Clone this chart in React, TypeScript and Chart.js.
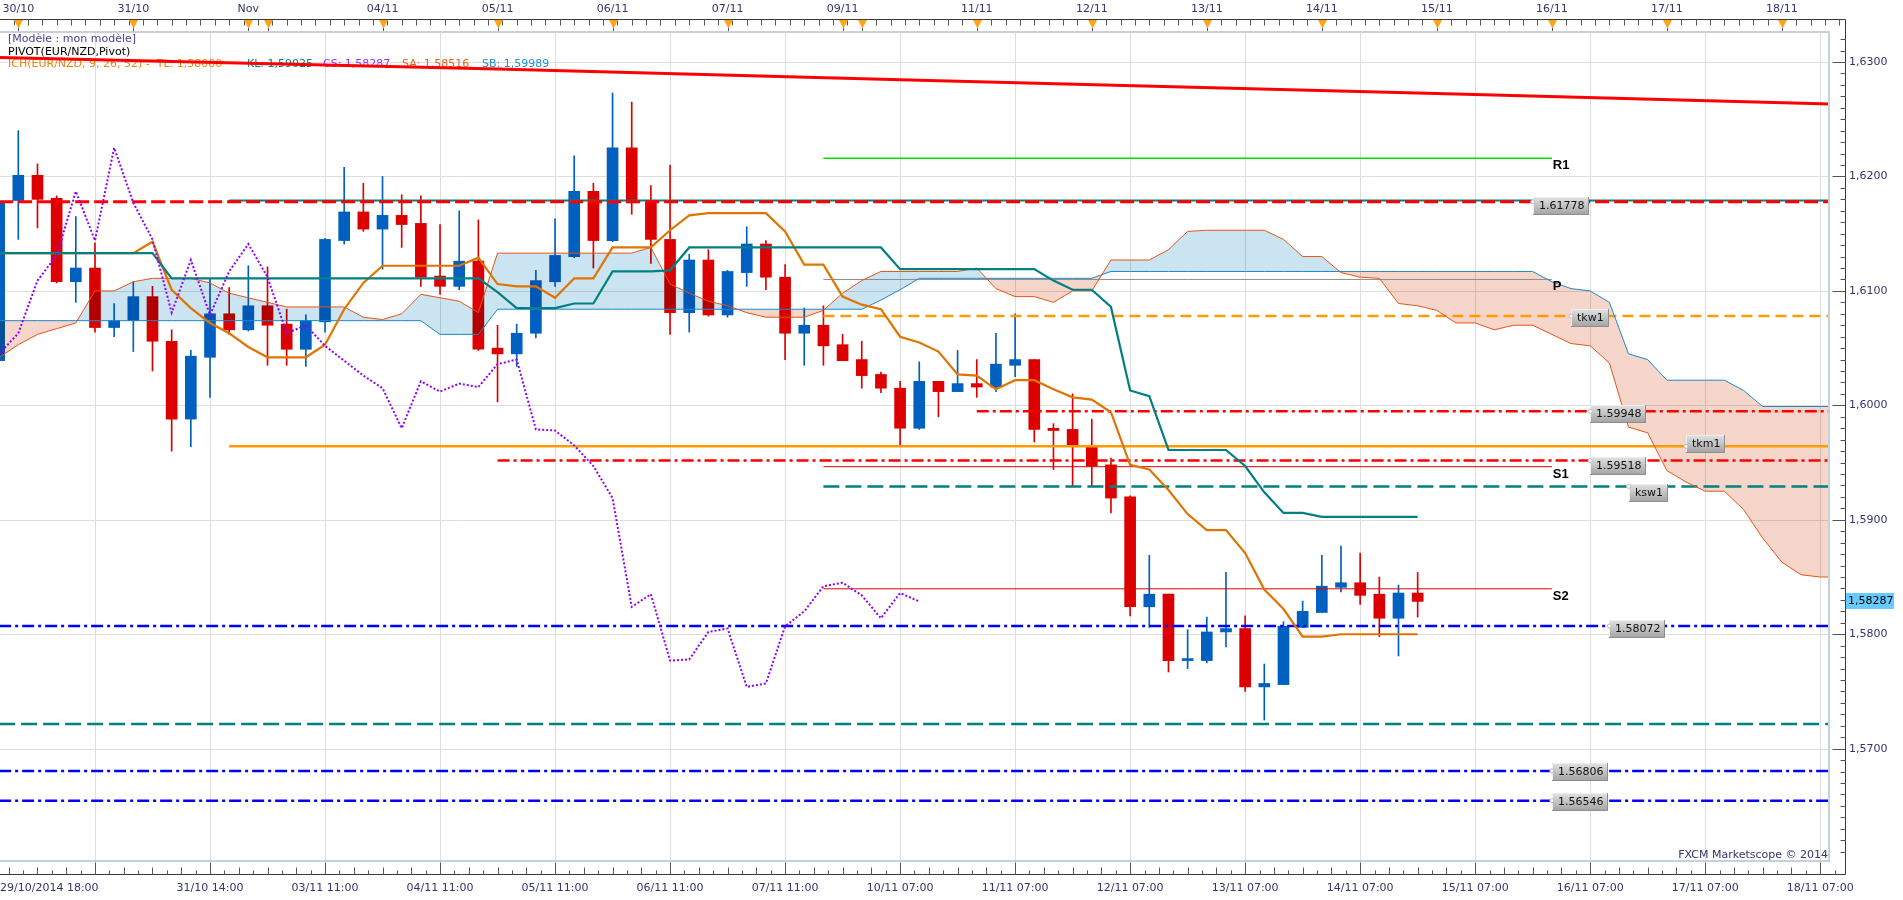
import React, { useEffect, useRef } from 'react';
import { Chart, registerables } from 'chart.js';

Chart.register(...registerables);

// ---------------- data (EUR/NZD, 4-hour candles, index -1 .. 73) ----------------
const FIRST_CANDLE = -1;
const OPEN = [
  1.6039, 1.6179, 1.6201, 1.6181, 1.6108, 1.6120, 1.6068, 1.6074, 1.6095, 1.6056,
  1.5988, 1.6042, 1.6080, 1.6066, 1.6087, 1.6071, 1.6049, 1.6073, 1.6144, 1.6169,
  1.6154, 1.6166, 1.6159, 1.6113, 1.6104, 1.6126, 1.6050, 1.6045, 1.6063, 1.6108,
  1.6130, 1.6187, 1.6144, 1.6225, 1.6177, 1.6145, 1.6081, 1.6127, 1.6079, 1.6116,
  1.6141, 1.6112, 1.6063, 1.6070, 1.6053, 1.6040, 1.6027, 1.6015, 1.5980, 1.6021,
  1.6012, 1.6019, 1.6016, 1.6035, 1.6040, 1.5980, 1.5979, 1.5964, 1.5948, 1.5920,
  1.5824, 1.5835, 1.5777, 1.5777, 1.5802, 1.5805, 1.5754, 1.5756, 1.5806, 1.5819,
  1.5841, 1.5845, 1.5835, 1.5814, 1.5836,
];
const HIGH = [
  1.6264, 1.6240, 1.6211, 1.6183, 1.6165, 1.6142, 1.6089, 1.6108, 1.6104, 1.6066,
  1.6048, 1.6111, 1.6103, 1.6122, 1.6121, 1.6084, 1.6079, 1.6146, 1.6208, 1.6194,
  1.6200, 1.6184, 1.6183, 1.6158, 1.6170, 1.6162, 1.6070, 1.6071, 1.6118, 1.6163,
  1.6218, 1.6194, 1.6273, 1.6265, 1.6192, 1.6210, 1.6132, 1.6136, 1.6118, 1.6156,
  1.6144, 1.6123, 1.6085, 1.6087, 1.6062, 1.6056, 1.6029, 1.6021, 1.6038, 1.6021,
  1.6048, 1.6040, 1.6063, 1.6080, 1.6040, 1.5984, 1.6010, 1.5988, 1.5954, 1.5921,
  1.5869, 1.5835, 1.5804, 1.5815, 1.5854, 1.5816, 1.5774, 1.5811, 1.5829, 1.5869,
  1.5877, 1.5871, 1.5850, 1.5843, 1.5854,
];
const LOW = [
  1.6022, 1.6145, 1.6155, 1.6107, 1.6090, 1.6064, 1.6060, 1.6047, 1.6030, 1.5960,
  1.5964, 1.6007, 1.6062, 1.6065, 1.6035, 1.6035, 1.6034, 1.6064, 1.6141, 1.6152,
  1.6119, 1.6138, 1.6104, 1.6097, 1.6101, 1.6048, 1.6003, 1.6034, 1.6059, 1.6104,
  1.6129, 1.6120, 1.6143, 1.6167, 1.6124, 1.6062, 1.6064, 1.6078, 1.6077, 1.6104,
  1.6101, 1.6040, 1.6035, 1.6035, 1.6039, 1.6015, 1.6011, 1.5965, 1.5979, 1.5990,
  1.6012, 1.6007, 1.6012, 1.6025, 1.5968, 1.5944, 1.5930, 1.5930, 1.5906, 1.5816,
  1.5806, 1.5767, 1.5770, 1.5775, 1.5789, 1.5750, 1.5725, 1.5756, 1.5806, 1.5819,
  1.5837, 1.5826, 1.5798, 1.5781, 1.5815,
];
const CLOSE = [
  1.6178, 1.6201, 1.6180, 1.6108, 1.6120, 1.6068, 1.6074, 1.6095, 1.6056, 1.5988,
  1.6043, 1.6080, 1.6066, 1.6087, 1.6070, 1.6049, 1.6074, 1.6145, 1.6169, 1.6154,
  1.6166, 1.6158, 1.6112, 1.6104, 1.6126, 1.6049, 1.6045, 1.6063, 1.6109, 1.6131,
  1.6187, 1.6144, 1.6225, 1.6177, 1.6145, 1.6081, 1.6127, 1.6079, 1.6117, 1.6141,
  1.6112, 1.6063, 1.6070, 1.6052, 1.6039, 1.6026, 1.6015, 1.5980, 1.6021, 1.6012,
  1.6019, 1.6016, 1.6036, 1.6040, 1.5979, 1.5978, 1.5965, 1.5947, 1.5919, 1.5824,
  1.5835, 1.5777, 1.5778, 1.5802, 1.5805, 1.5754, 1.5757, 1.5807, 1.5820, 1.5842,
  1.5845, 1.5834, 1.5814, 1.5836, 1.58287,
];

// Ichimoku (9, 26, 52) lines, same index range as the candles
const TENKAN = [
  1.6133, 1.6133, 1.6133, 1.6133, 1.6133, 1.6133, 1.6133, 1.6133, 1.6143, 1.6101,
  1.6085, 1.6072, 1.6063, 1.6051, 1.6042, 1.6042, 1.6042, 1.6053, 1.6084, 1.6107,
  1.6122, 1.6122, 1.6122, 1.6122, 1.6122, 1.6129, 1.6106, 1.6104, 1.6104, 1.6094,
  1.6111, 1.6111, 1.6138, 1.6138, 1.6138, 1.6153, 1.6166, 1.6168, 1.6168, 1.6168,
  1.6168, 1.6152, 1.6123, 1.6123, 1.6095, 1.6088, 1.6084, 1.6060, 1.6055, 1.6047,
  1.6027, 1.6026, 1.6014, 1.6022, 1.6022, 1.6014, 1.6007, 1.6005, 1.5994, 1.5948,
  1.5944, 1.5926, 1.5905, 1.5891, 1.5891, 1.5871, 1.5839, 1.5822, 1.5798, 1.5798,
  1.5800, 1.5800, 1.5800, 1.5800, 1.5800,
];
const KIJUN = [
  1.6133, 1.6133, 1.6133, 1.6133, 1.6133, 1.6133, 1.6133, 1.6133, 1.6133, 1.6111,
  1.6111, 1.6111, 1.6111, 1.6111, 1.6111, 1.6111, 1.6111, 1.6111, 1.6111, 1.6111,
  1.6111, 1.6111, 1.6111, 1.6111, 1.6111, 1.6111, 1.6099, 1.6085, 1.6085, 1.6085,
  1.6089, 1.6089, 1.6117, 1.6117, 1.6117, 1.6118, 1.6138, 1.6138, 1.6138, 1.6138,
  1.6138, 1.6138, 1.6138, 1.6138, 1.6138, 1.6138, 1.6138, 1.6119, 1.6119, 1.6119,
  1.6119, 1.6119, 1.6119, 1.6119, 1.6119, 1.6109, 1.6101, 1.6101, 1.6086, 1.6013,
  1.6008, 1.5961, 1.5961, 1.5961, 1.5961, 1.5947, 1.5924, 1.5906, 1.5906, 1.59025,
  1.59025, 1.59025, 1.59025, 1.59025, 1.59025,
];
// Senkou spans, index -1 .. 95 (already displaced forward)
const SENKOU_FIRST = -1;
const SENKOU_A = [
  1.6042, 1.6053, 1.6062, 1.6067, 1.6072, 1.6100, 1.6100, 1.6108, 1.6111, 1.6111,
  1.6111, 1.6107, 1.6098, 1.6094, 1.6090, 1.6086, 1.6086, 1.6086, 1.6086, 1.6077,
  1.6075, 1.6080, 1.6097, 1.6094, 1.6091, 1.6081, 1.6133, 1.6133, 1.6133, 1.6133,
  1.6133, 1.6133, 1.6133, 1.6133, 1.6138, 1.6106, 1.6098, 1.6091, 1.6087, 1.6081,
  1.6077, 1.6077, 1.6077, 1.6083, 1.6098, 1.6109, 1.6117, 1.6117, 1.6117, 1.6117,
  1.6117, 1.6120, 1.6102, 1.6095, 1.6095, 1.6090, 1.6100, 1.6100, 1.6127, 1.6127,
  1.6127, 1.6136, 1.6152, 1.6153, 1.6153, 1.6153, 1.6153, 1.6145, 1.6130, 1.6130,
  1.6116, 1.6112, 1.6111, 1.6089, 1.6087, 1.6083, 1.6072, 1.6072, 1.6066, 1.6070,
  1.6070, 1.6062, 1.6054, 1.6052, 1.6037, 1.5981, 1.5976, 1.5943, 1.5933, 1.5925,
  1.5925, 1.5909, 1.5884, 1.5863, 1.5852, 1.5850, 1.5850,
];
const SENKOU_B = [
  1.6074, 1.6074, 1.6074, 1.6074, 1.6074, 1.6074, 1.6074, 1.6074, 1.6074, 1.6074,
  1.6074, 1.6074, 1.6074, 1.6074, 1.6074, 1.6074, 1.6074, 1.6074, 1.6074, 1.6074,
  1.6074, 1.6074, 1.6074, 1.6062, 1.6062, 1.6062, 1.6084, 1.6084, 1.6084, 1.6084,
  1.6084, 1.6084, 1.6084, 1.6084, 1.6084, 1.6084, 1.6084, 1.6084, 1.6084, 1.6084,
  1.6084, 1.6084, 1.6084, 1.6084, 1.6084, 1.6084, 1.6092, 1.6101, 1.6111, 1.6111,
  1.6111, 1.6111, 1.6111, 1.6111, 1.6111, 1.6111, 1.6111, 1.6111, 1.6117, 1.6117,
  1.6117, 1.6117, 1.6117, 1.6117, 1.6117, 1.6117, 1.6117, 1.6117, 1.6117, 1.6117,
  1.6117, 1.6117, 1.6117, 1.6117, 1.6117, 1.6117, 1.6117, 1.6117, 1.6117, 1.6117,
  1.6117, 1.6108, 1.6102, 1.6100, 1.6090, 1.6045, 1.6040, 1.6022, 1.6022, 1.6022,
  1.6022, 1.6013, 1.5999, 1.5999, 1.5999, 1.5999, 1.5999,
];
const CHIKOU_SHIFT = 26; // chikou = close plotted 26 candles back

// red sloping line at the top
const TREND_AT = [-1, 25, 47, 75, 95];
const TREND_VALUES = [1.6304, 1.6294, 1.6284, 1.6272, 1.6263];

// horizontal levels (pivots, weekly/monthly tenkan/kijun, marked prices)
const LEVEL_VALUES = [1.61789, 1.61778, 1.6216, 1.6110, 1.6078, 1.59948, 1.59642, 1.59518, 1.59464, 1.59292, 1.58397, 1.58072, 1.57215, 1.56806, 1.56546];
const LEVEL_FROM = [11, -1, 42, 42, 42, 50, 11, 25, 42, 42, 42, -1, -1, -1, -1];
const LEVEL_TO = [95, 95, 80, 80, 95, 95, 95, 95, 80, 95, 80, 95, 95, 95, 95];

const TAG_TEXTS = ['1.61778', 'tkw1', '1.59948', 'tkm1', '1.59518', 'ksw1', '1.58072', '1.56806', '1.56546'];
const TAG_LEVELS = [1.61778, 1.6078, 1.59948, 1.59642, 1.59518, 1.59292, 1.58072, 1.56806, 1.56546];
const TAG_AT = [79, 81, 82, 87, 82, 84, 83, 80, 80];

const PIVOT_NAMES = ['R1', 'P', 'S1', 'S2'];
const PIVOT_LEVELS = [1.6216, 1.6110, 1.59464, 1.58397];
const PIVOT_LABEL_AT = 80;

const Y_TICKS = [1.57, 1.58, 1.59, 1.60, 1.61, 1.62, 1.63];
const LAST_PRICE = 1.58287;

const BOTTOM_GRID = [4, 10, 16, 22, 28, 34, 40, 46, 52, 58, 64, 70, 76, 82, 88, 94];
const BOTTOM_LABELS = ['29/10/2014 18:00', '31/10 14:00', '03/11 11:00', '04/11 11:00', '05/11 11:00', '06/11 11:00', '07/11 11:00', '10/11 07:00', '11/11 07:00', '12/11 07:00', '13/11 07:00', '14/11 07:00', '15/11 07:00', '16/11 07:00', '17/11 07:00', '18/11 07:00'];
const BOTTOM_LABEL_AT = [-1, 10, 16, 22, 28, 34, 40, 46, 52, 58, 64, 70, 76, 82, 88, 94];
const TOP_LABELS = ['30/10', '31/10', 'Nov', '04/11', '05/11', '06/11', '07/11', '09/11', '11/11', '12/11', '13/11', '14/11', '15/11', '16/11', '17/11', '18/11'];
const TOP_LABEL_AT = [0, 6, 12, 19, 25, 31, 37, 43, 50, 56, 62, 68, 74, 80, 86, 92];
const TOP_MARKERS = [0, 6, 12, 13, 19, 25, 31, 37, 43, 44, 50, 56, 62, 68, 74, 80, 86, 92];

const LEGEND_LINES = ['[Modèle : mon modèle]', 'PIVOT(EUR/NZD,Pivot)'];
const ICH_PARTS = ['ICH(EUR/NZD, 9, 26, 52) -  TL: 1,58000', 'KL: 1,59025', 'CS: 1,58287', 'SA: 1,58516', 'SB: 1,59989'];

// ---------------- styles / layout ----------------
const W = 1903;
const H = 900;
const X_MIN = -0.955;
const X_MAX = 94.51;
const Y_MIN = 1.5601;
const Y_MAX = 1.63271;
const FONT = '11px "DejaVu Sans", Verdana, sans-serif';
const AXIS_TEXT = '#34346E';
const UP = '#0060C0';
const DOWN = '#DD0000';
const CLOUD_UP = '#CBE4F1';
const CLOUD_DOWN = '#F6D6CA';
const LEVEL_STYLES = [
  { color: '#008080', width: 2, dash: [] as number[] },
  { color: '#FF0000', width: 3, dash: [14, 5] },
  { color: '#00E000', width: 1.5, dash: [] },
  { color: '#8C8C8C', width: 1, dash: [] },
  { color: '#FF9A00', width: 2.5, dash: [11, 6] },
  { color: '#FF0000', width: 2.5, dash: [12, 4, 3, 4] },
  { color: '#FF9A00', width: 2.5, dash: [] },
  { color: '#FF0000', width: 2.5, dash: [12, 4, 3, 4] },
  { color: '#DD0000', width: 1, dash: [] },
  { color: '#008080', width: 2.5, dash: [16, 6] },
  { color: '#DD0000', width: 1, dash: [] },
  { color: '#0000FF', width: 2.5, dash: [12, 4, 3, 4] },
  { color: '#008080', width: 2.5, dash: [16, 6] },
  { color: '#0000FF', width: 2.5, dash: [12, 4, 3, 4] },
  { color: '#0000FF', width: 2.5, dash: [12, 4, 3, 4] },
];
const TAG_DY = [-5, -7, -6, -11, -4, -2, -6, -8, -8];
const PIVOT_DY = [7, 7, 8, 8];
const ICH_X = [8, 247, 323, 402, 482];
const ICH_COLORS = ['#F0820A', '#008080', '#9B30FF', '#E8601C', '#1E8FD0'];
const BODY_DATASET = 1;

function drawCloud(chart: any) {
  const { ctx, chartArea: a, scales } = chart;
  const x = scales.x;
  const y = scales.y;
  ctx.save();
  ctx.beginPath();
  ctx.rect(a.left, a.top, a.right - a.left, a.bottom - a.top);
  ctx.clip();
  ctx.globalCompositeOperation = 'multiply';
  const up = new Path2D();
  const down = new Path2D();
  const poly = (path: Path2D, pts: number[][]) => {
    pts.forEach((p, k) => {
      const px = x.getPixelForValue(p[0]);
      const py = y.getPixelForValue(p[1]);
      if (k === 0) path.moveTo(px, py);
      else path.lineTo(px, py);
    });
    path.closePath();
  };
  for (let k = 0; k < SENKOU_A.length - 1; k++) {
    const i0 = SENKOU_FIRST + k;
    const i1 = i0 + 1;
    const a0 = SENKOU_A[k], a1 = SENKOU_A[k + 1];
    const b0 = SENKOU_B[k], b1 = SENKOU_B[k + 1];
    const d0 = a0 - b0, d1 = a1 - b1;
    if (d0 * d1 >= 0) {
      if (d0 === 0 && d1 === 0) continue;
      poly(d0 + d1 > 0 ? up : down, [[i0, a0], [i1, a1], [i1, b1], [i0, b0]]);
    } else {
      const t = d0 / (d0 - d1);
      const ic = i0 + t;
      const vc = a0 + (a1 - a0) * t;
      poly(d0 > 0 ? up : down, [[i0, a0], [ic, vc], [i0, b0]]);
      poly(d1 > 0 ? up : down, [[ic, vc], [i1, a1], [i1, b1]]);
    }
  }
  ctx.fillStyle = CLOUD_UP;
  ctx.fill(up);
  ctx.fillStyle = CLOUD_DOWN;
  ctx.fill(down);
  ctx.restore();
}

function drawTag(ctx: CanvasRenderingContext2D, px: number, py: number, dy: number, text: string) {
  ctx.font = FONT;
  const w = Math.round(ctx.measureText(text).width) + 11;
  const h = 18;
  const top = Math.round(py + dy);
  const left = Math.round(px);
  const g = ctx.createLinearGradient(0, top, 0, top + h);
  g.addColorStop(0, '#E2E2E2');
  g.addColorStop(1, '#A2A2A2');
  ctx.fillStyle = g;
  ctx.fillRect(left, top, w, h);
  ctx.strokeStyle = '#8E8E8E';
  ctx.lineWidth = 1;
  ctx.beginPath();
  ctx.moveTo(left + w - 0.5, top);
  ctx.lineTo(left + w - 0.5, top + h - 0.5);
  ctx.lineTo(left, top + h - 0.5);
  ctx.stroke();
  ctx.strokeStyle = '#EEEEEE';
  ctx.beginPath();
  ctx.moveTo(left + 0.5, top + h - 1);
  ctx.lineTo(left + 0.5, top + 0.5);
  ctx.lineTo(left + w - 1, top + 0.5);
  ctx.stroke();
  ctx.fillStyle = '#111111';
  ctx.textAlign = 'left';
  ctx.textBaseline = 'middle';
  ctx.fillText(text, left + 6, top + h / 2 + 0.5);
  ctx.beginPath();
  ctx.arc(px, py, 2, 0, Math.PI * 2);
  ctx.fillStyle = '#FFFFFF';
  ctx.fill();
  ctx.strokeStyle = '#BBBBBB';
  ctx.stroke();
}

const decorPlugin = {
  id: 'fxcmDecor',
  beforeDatasetsDraw(chart: any) {
    const { ctx, chartArea: a, scales } = chart;
    const x = scales.x;
    const y = scales.y;
    ctx.save();
    ctx.strokeStyle = '#DEDEDE';
    ctx.lineWidth = 1;
    ctx.beginPath();
    BOTTOM_GRID.forEach((i) => {
      const px = Math.round(x.getPixelForValue(i)) + 0.5;
      ctx.moveTo(px, a.top);
      ctx.lineTo(px, a.bottom);
    });
    Y_TICKS.forEach((v) => {
      const py = Math.round(y.getPixelForValue(v)) + 0.5;
      ctx.moveTo(a.left, py);
      ctx.lineTo(a.right, py);
    });
    ctx.stroke();

    ctx.font = FONT;
    ctx.textBaseline = 'middle';
    ctx.textAlign = 'left';
    ctx.fillStyle = '#4B3D8F';
    ctx.fillText(LEGEND_LINES[0], 8, 39);
    ctx.fillStyle = '#000000';
    ctx.fillText(LEGEND_LINES[1], 8, 52);
    ICH_PARTS.forEach((t, k) => {
      ctx.fillStyle = ICH_COLORS[k];
      ctx.fillText(t, ICH_X[k], 64.5);
    });
    ctx.restore();
  },
  afterDatasetDraw(chart: any, args: any) {
    if (args.index === BODY_DATASET) drawCloud(chart);
  },
  afterDraw(chart: any) {
    const { ctx, chartArea: a, scales } = chart;
    const x = scales.x;
    const y = scales.y;
    ctx.save();

    // plot frame
    ctx.strokeStyle = '#C6D1DC';
    ctx.lineWidth = 2;
    ctx.beginPath();
    ctx.moveTo(0, a.top + 1);
    ctx.lineTo(a.right - 1, a.top + 1);
    ctx.lineTo(a.right - 1, a.bottom - 1);
    ctx.lineTo(0, a.bottom - 1);
    ctx.stroke();

    // axis frame lines
    const axisX = 1845.5;
    const topY = 19.5;
    const botY = 874.5;
    ctx.strokeStyle = '#3A3A3A';
    ctx.lineWidth = 1;
    ctx.beginPath();
    ctx.moveTo(0, topY);
    ctx.lineTo(axisX, topY);
    ctx.lineTo(axisX, botY);
    ctx.lineTo(0, botY);
    ctx.stroke();

    // top axis minor ticks
    ctx.strokeStyle = '#555555';
    ctx.beginPath();
    for (let k = 0; k < 200; k++) {
      const i = -1 + 0.75 * k;
      const px = x.getPixelForValue(i);
      if (px > axisX - 2) break;
      const rx = Math.round(px) + 0.5;
      ctx.moveTo(rx, topY);
      ctx.lineTo(rx, topY + 6);
    }
    // bottom axis ticks
    for (let k = -8; k < 200; k++) {
      const i = 4 + 0.75 * k;
      const px = x.getPixelForValue(i);
      if (px < 0) continue;
      if (px > axisX - 2) break;
      const rx = Math.round(px) + 0.5;
      const m = ((k % 8) + 8) % 8;
      const len = m === 0 ? 12 : m % 2 === 0 ? 7 : 4;
      ctx.moveTo(rx, botY);
      ctx.lineTo(rx, botY - len);
    }
    // right axis ticks
    for (let k = 1561; k <= 1632; k++) {
      const v = k / 1000;
      const py = Math.round(y.getPixelForValue(v)) + 0.5;
      const len = k % 10 === 0 ? 13 : 5;
      ctx.moveTo(axisX, py);
      ctx.lineTo(axisX - len, py);
    }
    ctx.stroke();

    // day markers (top)
    TOP_MARKERS.forEach((i) => {
      const px = Math.round(x.getPixelForValue(i)) + 0.5;
      ctx.strokeStyle = '#555555';
      ctx.beginPath();
      ctx.moveTo(px, topY);
      ctx.lineTo(px, a.top);
      ctx.stroke();
      ctx.fillStyle = '#FFA31A';
      ctx.beginPath();
      ctx.moveTo(px - 4.5, topY + 0.5);
      ctx.lineTo(px + 4.5, topY + 0.5);
      ctx.lineTo(px, topY + 9);
      ctx.closePath();
      ctx.fill();
    });

    ctx.font = FONT;
    ctx.fillStyle = AXIS_TEXT;
    ctx.textBaseline = 'middle';
    ctx.textAlign = 'center';
    TOP_LABELS.forEach((t, k) => {
      ctx.fillText(t, x.getPixelForValue(TOP_LABEL_AT[k]), 9);
    });
    BOTTOM_LABELS.forEach((t, k) => {
      const px = x.getPixelForValue(BOTTOM_LABEL_AT[k]);
      const w = ctx.measureText(t).width;
      if (px - w / 2 < 0) {
        ctx.textAlign = 'left';
        ctx.fillText(t, 0, 888);
        ctx.textAlign = 'center';
      } else {
        ctx.fillText(t, px, 888);
      }
    });
    ctx.textAlign = 'left';
    Y_TICKS.forEach((v) => {
      ctx.fillText(v.toFixed(4).replace('.', ','), 1849, Math.round(y.getPixelForValue(v)) + 0.5);
    });

    // last price tag
    const lp = y.getPixelForValue(LAST_PRICE);
    ctx.fillStyle = '#66CCFF';
    ctx.fillRect(1846, Math.round(lp) - 8, 48, 16);
    ctx.fillStyle = '#000000';
    ctx.fillText(LAST_PRICE.toFixed(5).replace('.', ','), 1848, Math.round(lp) + 0.5);

    // copyright
    ctx.fillStyle = AXIS_TEXT;
    ctx.textAlign = 'right';
    ctx.fillText('FXCM Marketscope © 2014', 1828, 855);

    // pivot names
    ctx.save();
    ctx.beginPath();
    ctx.rect(a.left, a.top, a.right - a.left, a.bottom - a.top);
    ctx.clip();
    ctx.font = 'bold 13px "Liberation Sans", Arial, sans-serif';
    ctx.fillStyle = '#000000';
    ctx.textAlign = 'left';
    ctx.textBaseline = 'middle';
    PIVOT_NAMES.forEach((t, k) => {
      ctx.fillText(t, x.getPixelForValue(PIVOT_LABEL_AT) + 1, y.getPixelForValue(PIVOT_LEVELS[k]) + PIVOT_DY[k]);
    });
    // value tags
    TAG_TEXTS.forEach((t, k) => {
      drawTag(ctx, x.getPixelForValue(TAG_AT[k]), y.getPixelForValue(TAG_LEVELS[k]), TAG_DY[k], t);
    });
    ctx.restore();

    ctx.restore();
  },
};

export default function App() {
  const ref = useRef<HTMLCanvasElement | null>(null);

  useEffect(() => {
    const canvas = ref.current;
    if (!canvas) return;
    const xs = OPEN.map((_, k) => FIRST_CANDLE + k);
    const colors = OPEN.map((o, k) => (CLOSE[k] >= o ? UP : DOWN));
    const line = (data: any[], color: string, width: number, dash: number[], order: number) => ({
      type: 'line',
      data,
      borderColor: color,
      backgroundColor: color,
      borderWidth: width,
      borderDash: dash,
      pointRadius: 0,
      pointHoverRadius: 0,
      fill: false,
      tension: 0,
      order,
    });

    const datasets: any[] = [
      {
        type: 'bar',
        label: 'wicks',
        data: xs.map((xv, k) => ({ x: xv, y: [LOW[k], HIGH[k]] })),
        backgroundColor: colors,
        barThickness: 1,
        grouped: false,
        order: 30,
      },
      {
        type: 'bar',
        label: 'bodies',
        data: xs.map((xv, k) => ({ x: xv, y: [OPEN[k], CLOSE[k]] })),
        backgroundColor: colors,
        barThickness: 11,
        minBarLength: 2,
        grouped: false,
        order: 29,
      },
    ];
    LEVEL_VALUES.forEach((v, k) => {
      const s = LEVEL_STYLES[k];
      datasets.push(line([{ x: LEVEL_FROM[k], y: v }, { x: LEVEL_TO[k], y: v }], s.color, s.width, s.dash, 28 - k));
    });
    datasets.push(line(SENKOU_B.map((v, k) => ({ x: SENKOU_FIRST + k, y: v })), '#1E88C8', 1, [], 9));
    datasets.push(line(SENKOU_A.map((v, k) => ({ x: SENKOU_FIRST + k, y: v })), '#E45516', 1, [], 8));
    datasets.push(line(TENKAN.map((v, k) => ({ x: FIRST_CANDLE + k, y: v })), '#E17400', 2.2, [], 7));
    datasets.push(line(KIJUN.map((v, k) => ({ x: FIRST_CANDLE + k, y: v })), '#008080', 2.2, [], 6));
    datasets.push(
      line(
        CLOSE.map((v, k) => ({ x: FIRST_CANDLE + k - CHIKOU_SHIFT, y: v })).filter((p) => p.x >= FIRST_CANDLE),
        '#8F00FF', 2, [2, 2], 5
      )
    );
    datasets.push(line(TREND_VALUES.map((v, k) => ({ x: TREND_AT[k], y: v })), '#FF0000', 3, [], 4));

    const chart = new Chart(canvas, {
      type: 'line',
      data: { datasets },
      options: {
        responsive: false,
        maintainAspectRatio: false,
        animation: false,
        events: [],
        layout: { padding: { left: 0, top: 31, right: W - 1830, bottom: H - 862 } },
        scales: {
          x: { type: 'linear', min: X_MIN, max: X_MAX, display: false, offset: false, grid: { display: false } },
          y: { type: 'linear', min: Y_MIN, max: Y_MAX, display: false, grid: { display: false } },
        },
        plugins: { legend: { display: false }, tooltip: { enabled: false }, title: { display: false } },
      } as any,
      plugins: [decorPlugin as any],
    } as any);
    return () => chart.destroy();
  }, []);

  return (
    <div style={{ position: 'fixed', left: 0, top: 0, width: W, height: H, background: '#FFFFFF' }}>
      <canvas ref={ref} width={W} height={H} style={{ display: 'block', width: W, height: H }} />
    </div>
  );
}
